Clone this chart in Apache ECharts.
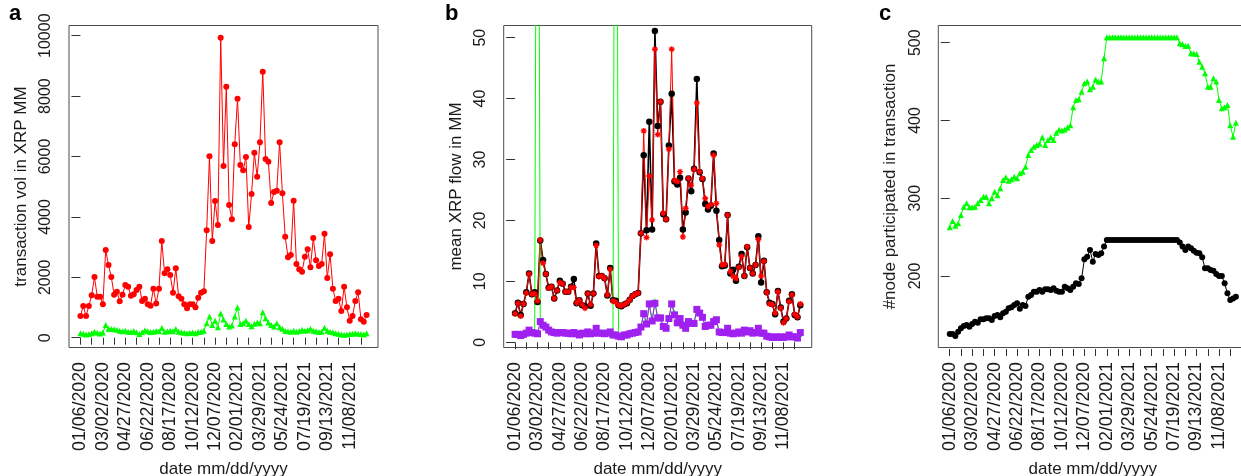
<!DOCTYPE html>
<html>
<head>
<meta charset="utf-8">
<script src="https://cdn.jsdelivr.net/npm/echarts@6/dist/echarts.min.js"></script>
<style>
html,body{margin:0;padding:0;background:#fff;}
#chart{width:1241px;height:476px;}
</style>
</head>
<body>
<div id="chart"></div>
<script>
// ---- tick labels (every 8 weeks, starting 01/06/2020) ----
const tickLabels = ['01/06/2020','03/02/2020','04/27/2020','06/22/2020','08/17/2020','10/12/2020','12/07/2020','02/01/2021','03/29/2021','05/24/2021','07/19/2021','09/13/2021','11/08/2021'];
const labelWeeks = [0,8,16,24,32,40,48,56,64,72,80,88,96];
const tickWeeks = [0,4,8,12,16,20,24,28,32,36,40,44,48,52,56,60,64,68,72,76,80,84,88,92,96,100];

// ---- panel a: transaction volume (XRP MM) ----
const volTotal = [718,1050,718,1050,1403,2010,1358,1358,1105,2904,2407,2010,1424,1523,1203,1424,1744,1689,1391,1436,1578,1689,1215,1292,1105,1061,1622,1136,1622,3202,2131,2264,2076,1491,2296,1369,1292,1105,972,1105,1105,1006,1325,1491,1535,3556,6006,3202,4526,3731,9933,5685,8311,4394,3920,6403,7913,5719,5542,5983,3665,4758,6126,5331,6469,8807,5917,5827,4460,4824,4868,6469,4780,3344,2662,2740,4536,2440,2264,2185,2682,2927,2330,3301,2562,2375,2440,3443,1977,2761,1622,1215,1292,884,1689,1006,563,718,1215,1502,607,530,751];
const volGreen = [145,130,110,125,150,200,160,140,170,420,300,290,280,260,230,210,230,200,190,220,180,120,180,250,210,190,200,220,210,320,200,210,230,210,290,200,180,160,150,160,170,150,190,200,230,480,700,420,560,350,800,600,450,370,400,700,1000,450,480,560,450,380,460,500,480,840,640,500,420,370,480,350,300,220,210,200,230,200,220,260,230,250,300,230,210,190,200,330,230,200,180,150,130,110,100,110,120,130,150,130,120,110,150];

// ---- panel b: mean XRP flow in MM ----
const flowBlack = [4.75,6.5,4.5,6.3,8.2,11.3,7.9,8.2,6.6,16.7,13.5,11.2,8.95,9.1,7.2,8.5,10.1,9.6,8.3,8.3,9.1,10.4,6.4,6.9,6.1,5.9,8.0,6.0,8.0,16.2,10.9,10.9,10.5,7.7,12.2,6.9,6.8,6.1,5.9,6.2,6.4,7.0,7.6,7.9,8.1,17.9,30.7,18.4,36.2,18.5,51.1,35.5,39.5,21.0,20.2,32.3,40.8,26.4,25.9,27.0,18.5,21.3,26.9,24.8,28.5,43.2,27.9,26.8,22.7,21.8,22.4,31.0,21.6,16.8,12.5,12.6,20.9,11.3,11.9,10.1,12.4,14.5,10.9,15.6,12.2,11.3,12.7,17.4,9.8,13.4,8.2,6.5,6.3,4.6,8.4,5.7,3.4,3.9,6.8,7.9,4.5,4.1,6.1];
const flowRed = [4.7,6.4,4.3,6.3,8.1,11.2,7.9,8.0,6.8,16.8,13.0,11.2,8.9,9.1,7.2,8.5,9.8,9.6,8.3,8.3,9.0,9.0,6.5,6.9,6.2,5.6,8.0,6.2,8.0,15.9,10.8,10.9,10.5,7.8,12.0,6.8,6.6,6.1,6.0,6.2,6.5,7.0,7.6,7.9,8.1,17.9,34.7,17.2,27.3,20.1,48.1,34.1,39.5,21.2,20.2,31.7,48.1,26.6,26.4,28.0,17.3,22.0,26.9,25.8,28.4,39.3,28.0,26.9,23.6,22.3,22.6,30.7,22.8,16.0,12.7,12.8,20.9,11.6,10.8,10.5,12.3,14.1,10.9,15.7,12.2,11.3,12.7,16.9,10.9,13.3,8.2,6.3,6.2,4.8,8.3,5.6,3.2,3.9,6.7,7.8,4.6,4.2,6.3];
const flowGreen = [1.3,1.4,1.2,1.3,1.6,2.1,1.6,1.5,145,3.3,2.8,2.5,2.0,1.7,1.6,1.5,1.6,1.6,1.5,1.5,1.4,1.6,1.4,1.2,1.5,1.4,1.8,1.4,1.5,2.4,1.5,1.5,1.4,1.5,1.7,1.2,145,1.0,0.9,1.2,1.2,1.4,1.5,1.6,1.7,2.5,4.8,3.0,6.3,3.6,6.9,4.1,4.0,2.6,2.3,4.0,6.5,5.0,3.2,3.9,2.8,2.3,3.4,3.1,3.2,5.6,4.8,4.1,2.6,2.8,2.9,4.0,3.7,1.7,1.6,1.6,2.3,1.5,1.4,1.5,1.7,1.5,2.0,1.7,1.9,1.5,1.6,2.3,1.5,1.5,1.0,0.9,0.8,0.9,0.8,0.9,0.8,0.9,1.2,0.9,0.9,0.7,1.2];
const flowPurple = [1.3,1.3,1.1,1.3,1.5,2.0,1.6,1.5,1.4,3.4,2.8,2.5,2.0,1.7,1.6,1.5,1.6,1.6,1.5,1.5,1.4,1.6,1.4,1.2,1.5,1.4,1.7,1.4,1.5,2.3,1.5,1.5,1.4,1.5,1.7,1.2,1.2,1.0,0.9,1.2,1.2,1.4,1.5,1.6,1.7,2.5,4.7,3.0,6.3,3.5,6.4,4.0,4.0,2.6,2.3,3.9,6.3,4.5,3.2,3.9,2.8,2.3,3.4,3.1,3.1,5.4,4.8,4.1,2.6,2.8,2.8,3.4,3.7,1.7,1.6,1.6,2.3,1.5,1.4,1.5,1.7,1.5,2.0,1.7,1.9,1.5,1.6,2.3,1.5,1.5,1.0,0.9,0.8,0.9,0.8,0.9,0.8,0.9,1.2,0.9,0.9,0.7,1.6];

// ---- panel c: #node participated in transaction ----
const nodeGreen = [262.6,270.7,264.7,267.7,278.4,289.2,293.5,288.3,288.3,289,293.5,297.8,302,302,293.5,300,308.5,304,312.7,323.5,327,322.5,324.3,327.7,325.6,332,334,340.6,355.6,362,366.3,368.5,370,378.3,368.5,375,378.3,375,384.3,388,387,388.5,391,394,417,426.3,427.2,437,447.7,450,440,443.4,452.8,450,450,480,507,507,507,507,507,507,507,507,507,507,507,507,507,507,507,507,507,507,507,507,507,507,507,507,507,507,499.2,498,495.8,496,486.3,486,485.4,475.6,469,460.6,443.5,443.5,454.2,450,426.3,415.6,417,420,394,379,397];
const nodeBlack = [125.4,125.4,122.9,128.5,132.7,135.8,137.1,134.9,138.3,141.3,140,144.3,144.3,145.6,145.6,143.5,148.6,149.9,146.9,152,154.2,158.5,159.8,162.8,164.9,158,162.8,161.5,173.5,175.6,179.9,179.9,182,179.9,182.9,182.9,182,184.2,181.2,179.9,179.9,186.3,184.2,182,186.3,190.6,189.7,197,221.5,224.9,233.5,218.5,228.4,227,229.2,237.8,246.4,246.4,246.4,246.4,246.4,246.4,246.4,246.4,246.4,246.4,246.4,246.4,246.4,246.4,246.4,246.4,246.4,246.4,246.4,246.4,246.4,246.4,246.4,246.4,246.4,246.4,243,237.8,233.5,237.8,235.6,232.6,230,229.2,224,209.9,209.9,207.7,206.9,202.6,200,200,190.6,177.7,169.1,171.2,173.4];

const yTicksA = [0,2000,4000,6000,8000,10000];
const yTicksB = [0,10,20,30,40,50];
const yTicksC = [200,300,400,500];

const FONT = '"Liberation Sans", Arial, Helvetica, sans-serif';
const TXT = '#1a1a1a';
const toPts = arr => arr.map((v, i) => [i, v]);

const grids = [
  {left: 69,    top: 25.5, width: 309, height: 322},
  {left: 503.7, top: 25.5, width: 308, height: 322},
  {left: 938.3, top: 25.5, width: 309, height: 322}
].map(g => Object.assign({show: true, borderColor: '#4d4d4d', borderWidth: 1, backgroundColor: 'transparent',
  containLabel: false, outerBoundsMode: 'none'}, g));

function xAxis(idx) {
  return {
    type: 'value', gridIndex: idx, min: -4.08, max: 106.08, offset: 1.5,
    axisLine: {show: false}, splitLine: {show: false},
    axisTick: {show: true, inside: false, customValues: tickWeeks, length: 7, lineStyle: {color: '#333', width: 1}},
    axisLabel: {
      customValues: labelWeeks, rotate: 90, margin: 13, fontSize: 17.8, fontFamily: FONT, color: TXT,
      formatter: v => tickLabels[Math.round(v / 8)]
    },
    name: 'date mm/dd/yyyy', nameLocation: 'middle', nameGap: 112,
    nameTextStyle: {fontSize: 17, fontFamily: FONT, color: TXT}
  };
}
function yAxis(idx, min, max, ticks, name) {
  return {
    type: 'value', gridIndex: idx, position: 'left', min: min, max: max,
    axisLine: {show: false}, splitLine: {show: false},
    axisTick: {show: true, inside: false, customValues: ticks, length: 9, lineStyle: {color: '#333', width: 1}},
    axisLabel: {customValues: ticks, rotate: 90, margin: 15, fontSize: 16, fontFamily: FONT, color: TXT,
      formatter: v => String(v)},
    name: name, nameLocation: 'middle', nameRotate: 90, nameGap: 39,
    nameTextStyle: {fontSize: 17, fontFamily: FONT, color: TXT}
  };
}

const asterisk = 'path://M0,-1L0,1M-1,0L1,0M-0.7,-0.7L0.7,0.7M-0.7,0.7L0.7,-0.7';

function line(idx, data, color, symbol, size, width, extra) {
  return Object.assign({
    type: 'line', xAxisIndex: idx, yAxisIndex: idx, data: toPts(data),
    symbol: symbol, symbolSize: size, showSymbol: true, clip: true,
    lineStyle: {color: color, width: width},
    itemStyle: {color: color},
    emphasis: {disabled: true}, animation: false, z: 2
  }, extra || {});
}

const option = {
  backgroundColor: '#ffffff',
  animation: false,
  grid: grids,
  xAxis: [xAxis(0), xAxis(1), xAxis(2)],
  yAxis: [
    yAxis(0, -324.5, 10338, yTicksA, 'transaction vol in XRP MM'),
    yAxis(1, -0.854, 52.0, yTicksB, 'mean XRP flow in MM'),
    yAxis(2, 108.1, 522.1, yTicksC, '#node participated in transaction')
  ],
  series: [
    line(0, volTotal, '#FF0000', 'circle', 6, 1),
    line(0, volGreen, '#00FF00', 'triangle', 6, 1),
    line(1, flowBlack, '#000000', 'circle', 6.5, 1.6),
    line(1, flowRed, '#FF0000', asterisk, 6, 1, {itemStyle: {color: '#FF0000', borderColor: '#FF0000', borderWidth: 1.3}}),
    line(1, flowGreen, '#00FF00', 'triangle', 4, 1),
    line(1, flowPurple, '#A020F0', 'rect', 7, 1),
    line(2, nodeGreen, '#00FF00', 'triangle', 6, 1),
    line(2, nodeBlack, '#000000', 'circle', 6, 1)
  ],
  graphic: [
    {type: 'text', left: 9,   top: 3, style: {text: 'a', font: 'bold 22px ' + FONT, fill: '#000'}},
    {type: 'text', left: 445, top: 3, style: {text: 'b', font: 'bold 22px ' + FONT, fill: '#000'}},
    {type: 'text', left: 879, top: 3, style: {text: 'c', font: 'bold 22px ' + FONT, fill: '#000'}}
  ]
};

const chart = echarts.init(document.getElementById('chart'), null, {renderer: 'canvas'});
chart.setOption(option);
</script>
</body>
</html>
